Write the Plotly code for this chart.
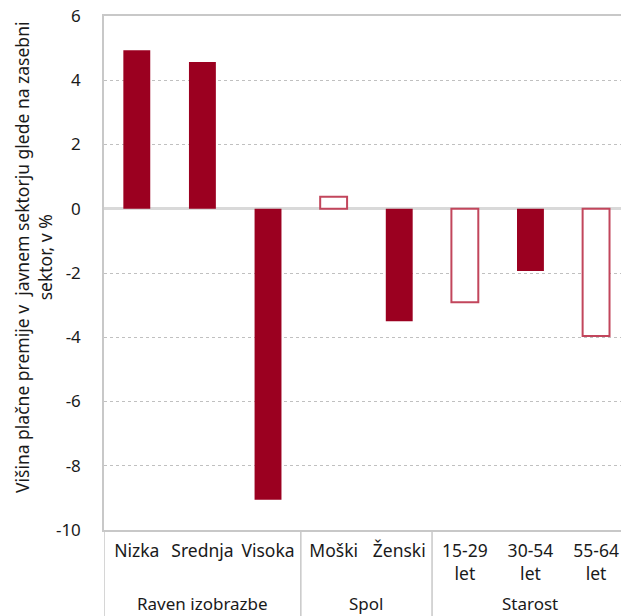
import plotly.graph_objects as go

categories = ["Nizka", "Srednja", "Visoka", "Moški", "Ženski", "15-29<br>let", "30-54<br>let", "55-64<br>let"]
values = [4.93, 4.57, -9.06, 0.37, -3.5, -2.91, -1.94, -3.96]
filled = [True, True, True, False, True, False, True, False]
groups = ["Raven izobrazbe", "Spol", "Starost"]
group_centers = [1, 3.5, 6]
group_separators = [-0.5, 2.5, 4.5]
y_ticks = [6, 4, 2, 0, -2, -4, -6, -8, -10]
y_ticklabels = ["6", "4", "2", "0", "-2", "-4", "-6", "-8", "-10"]

RED = "#9b0020"
OUTLINE = "#c2465c"
FONT = "Noto Sans"
TXT = "#1a1a1a"

fig = go.Figure()
fig.add_trace(go.Bar(
    x=list(range(len(categories))),
    y=values,
    width=0.41,
    marker=dict(
        color=[RED if f else "white" for f in filled],
        line=dict(color=[RED if f else OUTLINE for f in filled], width=[0 if f else 2 for f in filled]),
    ),
    showlegend=False,
))

for s in group_separators:
    fig.add_shape(type="line", xref="x", yref="paper", x0=s, x1=s, y0=0, y1=-0.2,
                  line=dict(color="#c8c8c8", width=1.5))

for g, c in zip(groups, group_centers):
    fig.add_annotation(text=g, x=c, xref="x", y=0, yref="paper", yshift=-73,
                       xanchor="center", yanchor="middle",
                       showarrow=False, font=dict(family=FONT, size=17, color=TXT))

fig.add_annotation(
    text="Višina plačne premije v  javnem sektorju glede na zasebni<br>sektor, v %",
    xref="paper", yref="paper", x=0, y=0.5, xshift=-71, yshift=15,
    xanchor="center", yanchor="middle",
    textangle=-90, showarrow=False,
    font=dict(family=FONT, size=17.5, color=TXT),
)

fig.update_layout(
    width=621, height=616,
    margin=dict(l=104, r=0, t=16, b=86),
    paper_bgcolor="white", plot_bgcolor="white",
    font=dict(family=FONT, size=17, color=TXT),
    xaxis=dict(
        range=[-0.5, 7.38],
        tickmode="array", tickvals=list(range(len(categories))), ticktext=categories,
        showgrid=False, showline=True, linecolor="#c8c8c8", linewidth=1.5, mirror=True,
        ticks="", tickfont=dict(family=FONT, size=17.5), zeroline=False,
        ticklabelstandoff=4,
    ),
    yaxis=dict(
        range=[-10, 6], tickmode="array", tickvals=y_ticks, ticktext=y_ticklabels,
        showgrid=True, gridcolor="#c0c0c0", griddash="dot", gridwidth=1,
        zeroline=True, zerolinecolor="#d9d9d9", zerolinewidth=2.5,
        showline=True, linecolor="#c8c8c8", linewidth=1.5,
        ticks="", ticklabelstandoff=18, tickfont=dict(family=FONT, size=17),
    ),
)

fig.write_html("out.html")
